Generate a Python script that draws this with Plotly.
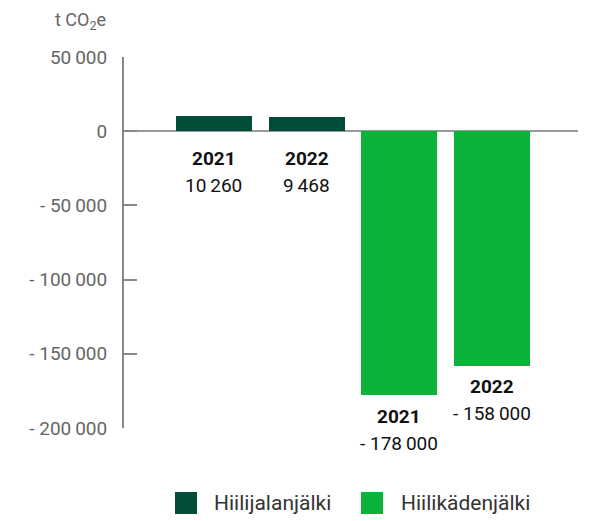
import plotly.graph_objects as go

years = ["2021", "2022"]
jalan_values = [10260, 9468]
kaden_values = [-178000, -158000]
jalan_labels = ["10\u2009260", "9\u2009468"]
kaden_labels = ["- 178\u2009000", "- 158\u2009000"]
series_names = ["Hiilijalanjälki", "Hiilikädenjälki"]
tick_vals = [50000, 0, -50000, -100000, -150000, -200000]
tick_text = ["50\u2009000", "0", "- 50\u2009000", "- 100\u2009000", "- 150\u2009000", "- 200\u2009000"]

DARK = "#014d3a"
LIGHT = "#0bb33b"
FONT = "Roboto"
colors = [DARK, LIGHT]

x_jalan = [i for i in range(len(jalan_values))]
x_kaden = [len(jalan_values) + i for i in range(len(kaden_values))]

fig = go.Figure()
fig.add_trace(go.Bar(x=x_jalan, y=jalan_values, name=series_names[0], showlegend=False,
                     marker=dict(color=DARK, line=dict(width=0)), width=0.82))
fig.add_trace(go.Bar(x=x_kaden, y=kaden_values, name=series_names[1], showlegend=False,
                     marker=dict(color=LIGHT, line=dict(width=0)), width=0.82))

lab_font = dict(size=19, color="#111", family=FONT)
annotations = []
for xi, v, lab, yr in zip(x_jalan, jalan_values, jalan_labels, years):
    annotations.append(dict(x=xi, y=0, xref="x", yref="y", text="<b>%s</b>" % yr,
                            showarrow=False, yanchor="middle", yshift=-27, font=lab_font))
    annotations.append(dict(x=xi, y=0, xref="x", yref="y", text=lab,
                            showarrow=False, yanchor="middle", yshift=-54, font=lab_font))
for xi, v, lab, yr in zip(x_kaden, kaden_values, kaden_labels, years):
    annotations.append(dict(x=xi, y=v, xref="x", yref="y", text="<b>%s</b>" % yr,
                            showarrow=False, yanchor="middle", yshift=-21, font=lab_font))
    annotations.append(dict(x=xi, y=v, xref="x", yref="y", text=lab,
                            showarrow=False, yanchor="middle", yshift=-48, font=lab_font))

# unit label
annotations.append(dict(x=-0.035, y=1.098, xref="paper", yref="paper", text="t CO<sub>2</sub>e",
                        showarrow=False, xanchor="right", yanchor="middle",
                        font=dict(size=18, color="#666", family=FONT)))

# manual legend
shapes = []
leg_sq = [(0.1123, 0.1608), (0.522, 0.5705)]
leg_tx = [0.1938, 0.6057]
for (x0, x1), tx, name, c in zip(leg_sq, leg_tx, series_names, colors):
    shapes.append(dict(type="rect", xref="paper", yref="paper", x0=x0, x1=x1,
                       y0=-0.2318, y1=-0.1725, fillcolor=c, line=dict(width=0)))
    annotations.append(dict(x=tx, y=-0.2022, xref="paper", yref="paper", text=name,
                            showarrow=False, xanchor="left", yanchor="middle",
                            font=dict(size=21, color="#333", family=FONT)))

fig.update_layout(
    width=582, height=513,
    margin=dict(l=116, r=12, t=49, b=93),
    paper_bgcolor="white", plot_bgcolor="white",
    font=dict(family=FONT, size=19, color="#666"),
    showlegend=False,
    annotations=annotations,
    shapes=shapes,
    bargap=0,
)
fig.update_xaxes(range=[-0.97, 3.93], showticklabels=False, showgrid=False,
                 zeroline=False, showline=False, ticks="")
fig.update_yaxes(range=[-200000, 50000], tickvals=tick_vals, ticktext=tick_text,
                 showgrid=False, zeroline=True, zerolinecolor="#999", zerolinewidth=2,
                 showline=True, linecolor="#888", linewidth=2,
                 ticks="inside", ticklen=13, tickcolor="#888", tickwidth=2,
                 ticklabelstandoff=11, tickfont=dict(size=19, color="#666"))

fig.write_html("out.html")
